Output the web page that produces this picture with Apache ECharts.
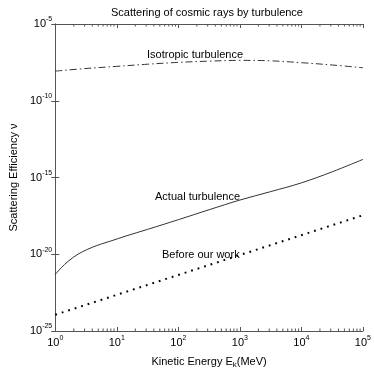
<!DOCTYPE html>
<html>
<head>
<meta charset="utf-8">
<script src="https://cdn.jsdelivr.net/npm/echarts@6/dist/echarts.min.js"></script>
<style>
  html, body { margin: 0; padding: 0; background: #fff; }
  #chart { width: 374px; height: 374px; }
</style>
</head>
<body>
<div id="chart"></div>
<script>
// exponents (log10): x = log10(E_k / MeV), y = log10(nu)
const isoLogE = [0, 0.5, 1, 1.5, 2, 2.5, 3, 3.5, 4, 4.5, 5];
const isoLogV = [-8.07, -7.9, -7.76, -7.62, -7.5, -7.42, -7.37, -7.4, -7.52, -7.67, -7.85];

const actLogE = [0, 0.15, 0.3, 0.45, 0.6, 0.75, 0.9, 1.15, 1.5, 2, 2.5, 3, 3.5, 4, 4.5, 5];
const actLogV = [-21.31, -20.67, -20.18, -19.82, -19.55, -19.33, -19.14, -18.81, -18.38, -17.75, -17.1, -16.47, -15.92, -15.35, -14.63, -13.82];

const befLogE = [0, 5];
const befLogV = [-23.94, -17.46];

// decades of the x axis and the minor tick multipliers inside each decade
const xDecades = [0, 1, 2, 3, 4];
const minorMult = [2, 3, 4, 5, 6, 7, 8, 9];

const FONT = 'Liberation Sans';

function toPoints(xs, ys) {
    return xs.map((x, i) => [x, ys[i]]);
}

// 10^n as rich text
function powLabel(v) {
    return '{b|10}{s|' + Math.round(v) + '}';
}
const powRich = {
    b: { fontSize: 11, fontFamily: FONT, color: '#000', lineHeight: 16 },
    s: { fontSize: 7, fontFamily: FONT, color: '#000', verticalAlign: 'top', lineHeight: 16 }
};

const axisCommon = {
    axisLine: { show: true, lineStyle: { color: '#555', width: 1 } },
    axisTick: { show: true, inside: true, length: 4, lineStyle: { color: '#555' } },
    splitLine: { show: false }
};

// log minor tick positions
const minorTicks = [];
xDecades.forEach(d => minorMult.forEach(m => minorTicks.push(d + Math.log10(m))));

const chart = echarts.init(document.getElementById('chart'), null, { renderer: 'canvas' });

chart.setOption({
    animation: false,
    backgroundColor: '#fff',
    title: {
        text: 'Scattering of cosmic rays by turbulence',
        left: 202,
        top: 2,
        textAlign: 'center',
        textStyle: { fontSize: 11, fontWeight: 'normal', fontFamily: FONT, color: '#000' }
    },
    grid: { left: 41, right: 11, top: 24, bottom: 39 },
    xAxis: [
        Object.assign({}, axisCommon, {
            type: 'value', min: 0, max: 5, interval: 1,
            position: 'bottom',
            axisLabel: { formatter: powLabel, rich: powRich, margin: 4 },
            name: '{a|Kinetic Energy E}{k|k}{a|(MeV)}',
            nameLocation: 'middle',
            nameGap: 24,
            nameTextStyle: {
                rich: {
                    a: { fontSize: 11, fontFamily: FONT, color: '#000', lineHeight: 14 },
                    k: { fontSize: 8, fontFamily: FONT, color: '#000', verticalAlign: 'bottom', lineHeight: 14, padding: [6, 0, 0, 0] }
                }
            }
        }),
        Object.assign({}, axisCommon, {
            type: 'value', min: 0, max: 5, interval: 1,
            position: 'top',
            axisLabel: { show: false }
        })
    ],
    yAxis: [
        Object.assign({}, axisCommon, {
            type: 'value', min: -25, max: -5, interval: 5,
            position: 'left',
            axisLabel: { formatter: powLabel, rich: powRich, margin: 3 },
            name: 'Scattering Efficiency ν',
            nameLocation: 'middle',
            nameGap: 36,
            nameTextStyle: { fontSize: 11, fontFamily: FONT, color: '#000' }
        }),
        Object.assign({}, axisCommon, {
            type: 'value', min: -25, max: -5, interval: 5,
            position: 'right',
            axisLabel: { show: false }
        })
    ],
    graphic: [
        { type: 'text', left: 147, top: 49, style: { text: 'Isotropic turbulence', fontSize: 11, fontFamily: FONT, fill: '#000' } },
        { type: 'text', left: 155, top: 191, style: { text: 'Actual turbulence', fontSize: 11, fontFamily: FONT, fill: '#000' } },
        { type: 'text', left: 162, top: 249, style: { text: 'Before our work', fontSize: 11, fontFamily: FONT, fill: '#000' } }
    ],
    series: [
        {
            name: 'Isotropic turbulence',
            type: 'line',
            data: toPoints(isoLogE, isoLogV),
            smooth: 0.4,
            showSymbol: false,
            lineStyle: { color: '#333', width: 1, type: [7, 3, 1.5, 3] }
        },
        {
            name: 'Actual turbulence',
            type: 'line',
            data: toPoints(actLogE, actLogV),
            smooth: 0.35,
            showSymbol: false,
            lineStyle: { color: '#333', width: 1, type: 'solid' }
        },
        {
            name: 'Before our work',
            type: 'line',
            data: toPoints(befLogE, befLogV),
            showSymbol: false,
            lineStyle: { color: '#000', width: 2, type: [1.8, 5] }
        },
        {
            // log-spaced minor ticks on top and bottom edges
            name: 'minor',
            type: 'custom',
            silent: true,
            clip: false,
            data: minorTicks.map(v => [v]),
            encode: { x: 0 },
            renderItem: function (params, api) {
                const bot = api.coord([api.value(0), -25]);
                const top = api.coord([api.value(0), -5]);
                const st = { stroke: '#555', lineWidth: 1 };
                return {
                    type: 'group',
                    children: [
                        { type: 'line', shape: { x1: bot[0], y1: bot[1], x2: bot[0], y2: bot[1] - 2.5 }, style: st },
                        { type: 'line', shape: { x1: top[0], y1: top[1], x2: top[0], y2: top[1] + 2.5 }, style: st }
                    ]
                };
            }
        }
    ]
});
</script>
</body>
</html>
